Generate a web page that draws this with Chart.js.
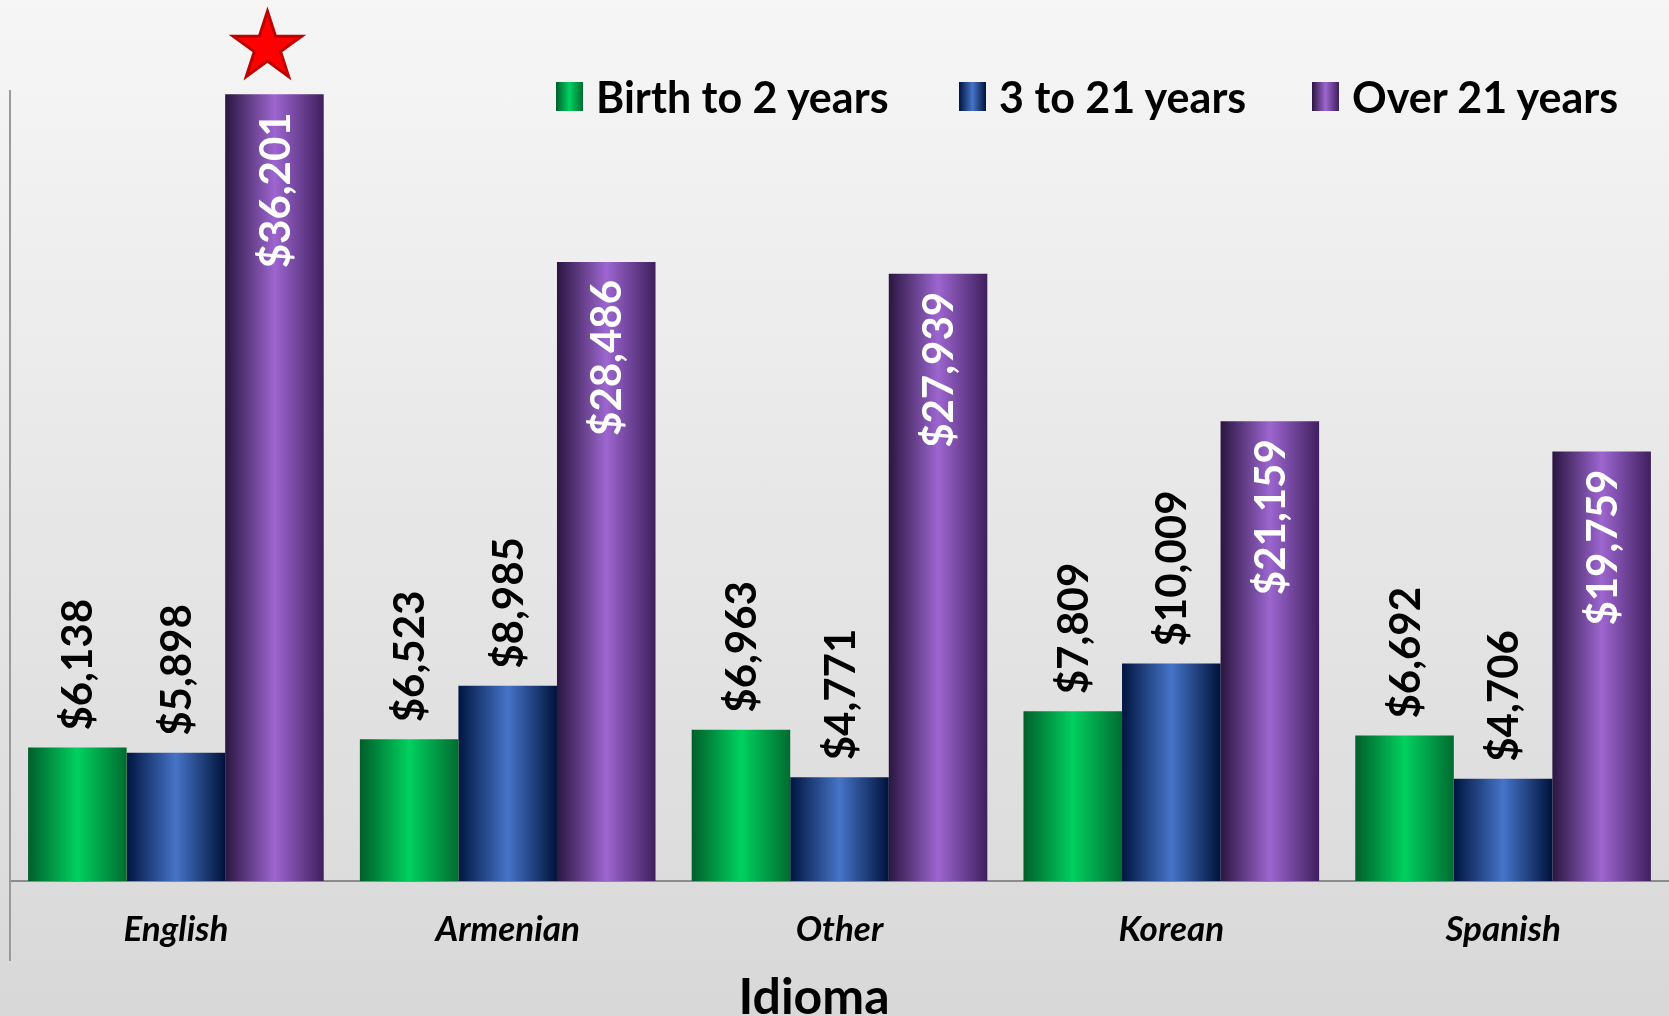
<!DOCTYPE html>
<html>
<head>
<meta charset="utf-8">
<title>Costo por idioma</title>
<script src="https://cdn.jsdelivr.net/npm/chart.js@4.4.1/dist/chart.umd.min.js"></script>
<style>
  body { margin: 0; font-family: Lato, sans-serif; }
  #wrap {
    position: relative;
    width: 1669px;
    height: 1016px;
    background: linear-gradient(#f6f6f6, #d8d8d8);
    overflow: hidden;
  }
  #wrap canvas { position: absolute; left: 0; top: 0; }
  .legend-item {
    position: absolute;
    top: 73px;
    height: 46px;
    display: flex;
    align-items: center;
    font: bold 43px Lato, sans-serif;
    color: #000;
    white-space: nowrap;
  }
  .legend-item .swatch {
    width: 27px;
    height: 29px;
    margin-right: 13px;
  }
  .axis-title {
    position: absolute;
    left: 814px;
    top: 966px;
    transform: translateX(-50%);
    font: bold 50px Lato, sans-serif;
    line-height: 58px;
    color: #000;
  }
</style>
</head>
<body>
<div id="wrap">
  <canvas id="chart"></canvas>
  <div class="axis-title">Idioma</div>
</div>
<script>
const categories = ['English', 'Armenian', 'Other', 'Korean', 'Spanish'];
const seriesNames = ['Birth to 2 years', '3 to 21 years', 'Over 21 years'];
const birthTo2 = [6138, 6523, 6963, 7809, 6692];
const age3to21 = [5898, 8985, 4771, 10009, 4706];
const over21 = [36201, 28486, 27939, 21159, 19759];
const yMax = 36400;

// edge / centre / edge colours for the cylinder look
const greenStops = ['#005f2b', '#00d15f', '#006c31'];
const blueStops = ['#001540', '#4674c8', '#00123a'];
const purpleStops = ['#2a1640', '#9d66d0', '#3f1f5e'];
const legendLefts = [556, 959, 1312];

const CAT_PCT = 0.891;

function barFill(stops) {
    return (ctx) => {
        const chart = ctx.chart;
        const xs = chart.scales && chart.scales.x;
        if (!xs || ctx.type !== 'data' || !chart.chartArea) return stops[1];
        const cat = xs.width / categories.length;
        const group = cat * CAT_PCT;
        const w = group / 3;
        const left = xs.getPixelForValue(ctx.dataIndex) - group / 2 + ctx.datasetIndex * w;
        const g = chart.ctx.createLinearGradient(left, 0, left + w, 0);
        g.addColorStop(0, stops[0]);
        g.addColorStop(0.5, stops[1]);
        g.addColorStop(1, stops[2]);
        return g;
    };
}

// legend as plain html so it can sit above the plot area
const wrap = document.getElementById('wrap');
[greenStops, blueStops, purpleStops].forEach((stops, i) => {
    const item = document.createElement('div');
    item.className = 'legend-item';
    item.style.left = legendLefts[i] + 'px';
    const sw = document.createElement('span');
    sw.className = 'swatch';
    sw.style.background = `linear-gradient(90deg, ${stops[0]}, ${stops[1]}, ${stops[2]})`;
    const txt = document.createElement('span');
    txt.textContent = seriesNames[i];
    item.appendChild(sw);
    item.appendChild(txt);
    wrap.appendChild(item);
});

const valueLabels = {
    id: 'valueLabels',
    afterDatasetsDraw(chart) {
        const c = chart.ctx;
        const size = 42;
        const capH = size * 0.72;
        c.save();
        c.font = `bold ${size}px Lato, sans-serif`;
        chart.data.datasets.forEach((ds, di) => {
            const meta = chart.getDatasetMeta(di);
            const inside = di === 2;
            meta.data.forEach((bar, i) => {
                const text = '$' + ds.data[i].toLocaleString('en-US');
                c.save();
                c.translate(bar.x + capH / 2, inside ? bar.y + 18 : bar.y - 17);
                c.rotate(-Math.PI / 2);
                c.textAlign = inside ? 'right' : 'left';
                c.textBaseline = 'alphabetic';
                c.fillStyle = inside ? '#ffffff' : '#000000';
                c.fillText(text, 0, 0);
                c.restore();
            });
        });
        c.restore();
    }
};

const extras = {
    id: 'extras',
    afterDraw(chart) {
        const c = chart.ctx;
        const area = chart.chartArea;
        // left axis line running down through the label band
        c.save();
        c.strokeStyle = '#9a9a9a';
        c.lineWidth = 2;
        c.beginPath();
        c.moveTo(area.left, area.top);
        c.lineTo(area.left, area.bottom + 80);
        c.stroke();

        // red star over the highest bar
        const top = chart.getDatasetMeta(2).data[0];
        const cx = top.x - 7;
        const cy = top.y - 47;
        const R = 36;
        const r = R * 0.382;
        c.beginPath();
        for (let k = 0; k < 10; k++) {
            const rad = k % 2 === 0 ? R : r;
            const a = -Math.PI / 2 + k * Math.PI / 5;
            const px = cx + rad * Math.cos(a);
            const py = cy + rad * Math.sin(a);
            if (k === 0) c.moveTo(px, py); else c.lineTo(px, py);
        }
        c.closePath();
        c.fillStyle = '#ff0000';
        c.fill();
        c.strokeStyle = '#c00000';
        c.lineWidth = 3;
        c.lineJoin = 'miter';
        c.stroke();
        c.restore();
    }
};

Chart.defaults.font.family = 'Lato, sans-serif';

new Chart(document.getElementById('chart'), {
    type: 'bar',
    data: {
        labels: categories,
        datasets: [
            { label: seriesNames[0], data: birthTo2, backgroundColor: barFill(greenStops) },
            { label: seriesNames[1], data: age3to21, backgroundColor: barFill(blueStops) },
            { label: seriesNames[2], data: over21, backgroundColor: barFill(purpleStops) },
        ],
    },
    options: {
        responsive: true,
        maintainAspectRatio: false,
        animation: false,
        devicePixelRatio: 1,
        layout: { padding: { top: 90, right: 0, left: 0, bottom: 0 } },
        datasets: {
            bar: { barPercentage: 1, categoryPercentage: CAT_PCT, borderWidth: 0 }
        },
        plugins: {
            legend: { display: false },
            tooltip: { enabled: false },
        },
        scales: {
            x: {
                grid: { display: false, drawTicks: false },
                border: { display: true, color: '#8c8c8c', width: 2 },
                ticks: {
                    color: '#000',
                    padding: 28,
                    font: { size: 35, weight: 'bold', style: 'italic' },
                },
                afterFit(scale) { scale.height = 135; },
            },
            y: {
                min: 0,
                max: yMax,
                grid: { display: false, drawTicks: false },
                border: { display: false },
                ticks: { display: false },
                afterFit(scale) { scale.width = 10; },
            },
        },
    },
    plugins: [valueLabels, extras],
});
</script>
</body>
</html>
